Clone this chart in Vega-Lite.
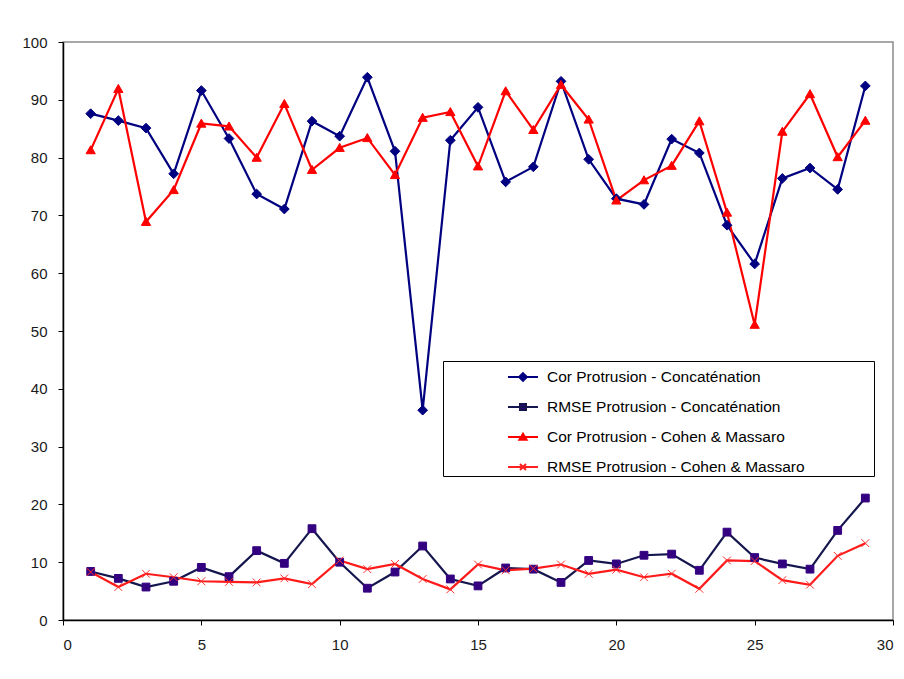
{
  "$schema": "https://vega.github.io/schema/vega-lite/v6.json",
  "width": 830,
  "height": 578,
  "autosize": "none",
  "padding": {"left": 63, "top": 42, "right": 11, "bottom": 59},
  "background": "white",
  "config": {
    "view": {"stroke": "#8c8c8c", "strokeWidth": 1.5},
    "font": "Liberation Sans",
    "legend": {
      "orient": "none",
      "legendX": 380,
      "legendY": 319,
      "padding": 0,
      "rowPadding": 5,
      "strokeColor": "#000",
      "fillColor": "#fff",
      "symbolSize": 900,
      "symbolStrokeWidth": 2,
      "symbolOpacity": 1,
      "symbolOffset": 64,
      "labelOffset": 8,
      "labelFont": "Liberation Sans",
      "labelFontSize": 15.5,
      "labelColor": "#000",
      "labelLimit": 0
    }
  },
  "resolve": {"scale": {"shape": "independent", "fill": "independent", "stroke": "independent"}},
  "data": {
    "values": [
      {"x": 1, "s": "Cor Protrusion - Concaténation", "v": 87.6},
      {"x": 2, "s": "Cor Protrusion - Concaténation", "v": 86.4},
      {"x": 3, "s": "Cor Protrusion - Concaténation", "v": 85.1},
      {"x": 4, "s": "Cor Protrusion - Concaténation", "v": 77.2},
      {"x": 5, "s": "Cor Protrusion - Concaténation", "v": 91.6},
      {"x": 6, "s": "Cor Protrusion - Concaténation", "v": 83.3},
      {"x": 7, "s": "Cor Protrusion - Concaténation", "v": 73.7},
      {"x": 8, "s": "Cor Protrusion - Concaténation", "v": 71.1},
      {"x": 9, "s": "Cor Protrusion - Concaténation", "v": 86.3},
      {"x": 10, "s": "Cor Protrusion - Concaténation", "v": 83.7},
      {"x": 11, "s": "Cor Protrusion - Concaténation", "v": 93.9},
      {"x": 12, "s": "Cor Protrusion - Concaténation", "v": 81.1},
      {"x": 13, "s": "Cor Protrusion - Concaténation", "v": 36.3},
      {"x": 14, "s": "Cor Protrusion - Concaténation", "v": 83.0},
      {"x": 15, "s": "Cor Protrusion - Concaténation", "v": 88.7},
      {"x": 16, "s": "Cor Protrusion - Concaténation", "v": 75.8},
      {"x": 17, "s": "Cor Protrusion - Concaténation", "v": 78.4},
      {"x": 18, "s": "Cor Protrusion - Concaténation", "v": 93.2},
      {"x": 19, "s": "Cor Protrusion - Concaténation", "v": 79.7},
      {"x": 20, "s": "Cor Protrusion - Concaténation", "v": 72.9},
      {"x": 21, "s": "Cor Protrusion - Concaténation", "v": 71.9},
      {"x": 22, "s": "Cor Protrusion - Concaténation", "v": 83.2},
      {"x": 23, "s": "Cor Protrusion - Concaténation", "v": 80.8},
      {"x": 24, "s": "Cor Protrusion - Concaténation", "v": 68.3},
      {"x": 25, "s": "Cor Protrusion - Concaténation", "v": 61.6},
      {"x": 26, "s": "Cor Protrusion - Concaténation", "v": 76.4},
      {"x": 27, "s": "Cor Protrusion - Concaténation", "v": 78.2},
      {"x": 28, "s": "Cor Protrusion - Concaténation", "v": 74.5},
      {"x": 29, "s": "Cor Protrusion - Concaténation", "v": 92.4},
      {"x": 1, "s": "RMSE Protrusion - Concaténation", "v": 8.4},
      {"x": 2, "s": "RMSE Protrusion - Concaténation", "v": 7.2},
      {"x": 3, "s": "RMSE Protrusion - Concaténation", "v": 5.7},
      {"x": 4, "s": "RMSE Protrusion - Concaténation", "v": 6.7},
      {"x": 5, "s": "RMSE Protrusion - Concaténation", "v": 9.1},
      {"x": 6, "s": "RMSE Protrusion - Concaténation", "v": 7.5},
      {"x": 7, "s": "RMSE Protrusion - Concaténation", "v": 12.0},
      {"x": 8, "s": "RMSE Protrusion - Concaténation", "v": 9.8},
      {"x": 9, "s": "RMSE Protrusion - Concaténation", "v": 15.8},
      {"x": 10, "s": "RMSE Protrusion - Concaténation", "v": 10.0},
      {"x": 11, "s": "RMSE Protrusion - Concaténation", "v": 5.5},
      {"x": 12, "s": "RMSE Protrusion - Concaténation", "v": 8.3},
      {"x": 13, "s": "RMSE Protrusion - Concaténation", "v": 12.8},
      {"x": 14, "s": "RMSE Protrusion - Concaténation", "v": 7.1},
      {"x": 15, "s": "RMSE Protrusion - Concaténation", "v": 5.9},
      {"x": 16, "s": "RMSE Protrusion - Concaténation", "v": 9.0},
      {"x": 17, "s": "RMSE Protrusion - Concaténation", "v": 8.8},
      {"x": 18, "s": "RMSE Protrusion - Concaténation", "v": 6.5},
      {"x": 19, "s": "RMSE Protrusion - Concaténation", "v": 10.3},
      {"x": 20, "s": "RMSE Protrusion - Concaténation", "v": 9.7},
      {"x": 21, "s": "RMSE Protrusion - Concaténation", "v": 11.2},
      {"x": 22, "s": "RMSE Protrusion - Concaténation", "v": 11.4},
      {"x": 23, "s": "RMSE Protrusion - Concaténation", "v": 8.6},
      {"x": 24, "s": "RMSE Protrusion - Concaténation", "v": 15.2},
      {"x": 25, "s": "RMSE Protrusion - Concaténation", "v": 10.8},
      {"x": 26, "s": "RMSE Protrusion - Concaténation", "v": 9.7},
      {"x": 27, "s": "RMSE Protrusion - Concaténation", "v": 8.8},
      {"x": 28, "s": "RMSE Protrusion - Concaténation", "v": 15.5},
      {"x": 29, "s": "RMSE Protrusion - Concaténation", "v": 21.1},
      {"x": 1, "s": "Cor Protrusion - Cohen & Massaro", "v": 81.3},
      {"x": 2, "s": "Cor Protrusion - Cohen & Massaro", "v": 91.9},
      {"x": 3, "s": "Cor Protrusion - Cohen & Massaro", "v": 68.9},
      {"x": 4, "s": "Cor Protrusion - Cohen & Massaro", "v": 74.4},
      {"x": 5, "s": "Cor Protrusion - Cohen & Massaro", "v": 85.9},
      {"x": 6, "s": "Cor Protrusion - Cohen & Massaro", "v": 85.4},
      {"x": 7, "s": "Cor Protrusion - Cohen & Massaro", "v": 80.0},
      {"x": 8, "s": "Cor Protrusion - Cohen & Massaro", "v": 89.3},
      {"x": 9, "s": "Cor Protrusion - Cohen & Massaro", "v": 77.9},
      {"x": 10, "s": "Cor Protrusion - Cohen & Massaro", "v": 81.7},
      {"x": 11, "s": "Cor Protrusion - Cohen & Massaro", "v": 83.4},
      {"x": 12, "s": "Cor Protrusion - Cohen & Massaro", "v": 77.0},
      {"x": 13, "s": "Cor Protrusion - Cohen & Massaro", "v": 86.9},
      {"x": 14, "s": "Cor Protrusion - Cohen & Massaro", "v": 87.9},
      {"x": 15, "s": "Cor Protrusion - Cohen & Massaro", "v": 78.5},
      {"x": 16, "s": "Cor Protrusion - Cohen & Massaro", "v": 91.5},
      {"x": 17, "s": "Cor Protrusion - Cohen & Massaro", "v": 84.8},
      {"x": 18, "s": "Cor Protrusion - Cohen & Massaro", "v": 92.6},
      {"x": 19, "s": "Cor Protrusion - Cohen & Massaro", "v": 86.6},
      {"x": 20, "s": "Cor Protrusion - Cohen & Massaro", "v": 72.6},
      {"x": 21, "s": "Cor Protrusion - Cohen & Massaro", "v": 76.1},
      {"x": 22, "s": "Cor Protrusion - Cohen & Massaro", "v": 78.6},
      {"x": 23, "s": "Cor Protrusion - Cohen & Massaro", "v": 86.3},
      {"x": 24, "s": "Cor Protrusion - Cohen & Massaro", "v": 70.5},
      {"x": 25, "s": "Cor Protrusion - Cohen & Massaro", "v": 51.1},
      {"x": 26, "s": "Cor Protrusion - Cohen & Massaro", "v": 84.5},
      {"x": 27, "s": "Cor Protrusion - Cohen & Massaro", "v": 91.0},
      {"x": 28, "s": "Cor Protrusion - Cohen & Massaro", "v": 80.1},
      {"x": 29, "s": "Cor Protrusion - Cohen & Massaro", "v": 86.4},
      {"x": 1, "s": "RMSE Protrusion - Cohen & Massaro", "v": 8.3},
      {"x": 2, "s": "RMSE Protrusion - Cohen & Massaro", "v": 5.7},
      {"x": 3, "s": "RMSE Protrusion - Cohen & Massaro", "v": 8.0},
      {"x": 4, "s": "RMSE Protrusion - Cohen & Massaro", "v": 7.4},
      {"x": 5, "s": "RMSE Protrusion - Cohen & Massaro", "v": 6.7},
      {"x": 6, "s": "RMSE Protrusion - Cohen & Massaro", "v": 6.6},
      {"x": 7, "s": "RMSE Protrusion - Cohen & Massaro", "v": 6.5},
      {"x": 8, "s": "RMSE Protrusion - Cohen & Massaro", "v": 7.2},
      {"x": 9, "s": "RMSE Protrusion - Cohen & Massaro", "v": 6.2},
      {"x": 10, "s": "RMSE Protrusion - Cohen & Massaro", "v": 10.3},
      {"x": 11, "s": "RMSE Protrusion - Cohen & Massaro", "v": 8.8},
      {"x": 12, "s": "RMSE Protrusion - Cohen & Massaro", "v": 9.7},
      {"x": 13, "s": "RMSE Protrusion - Cohen & Massaro", "v": 7.1},
      {"x": 14, "s": "RMSE Protrusion - Cohen & Massaro", "v": 5.3},
      {"x": 15, "s": "RMSE Protrusion - Cohen & Massaro", "v": 9.6},
      {"x": 16, "s": "RMSE Protrusion - Cohen & Massaro", "v": 8.6},
      {"x": 17, "s": "RMSE Protrusion - Cohen & Massaro", "v": 8.9},
      {"x": 18, "s": "RMSE Protrusion - Cohen & Massaro", "v": 9.6},
      {"x": 19, "s": "RMSE Protrusion - Cohen & Massaro", "v": 8.0},
      {"x": 20, "s": "RMSE Protrusion - Cohen & Massaro", "v": 8.7},
      {"x": 21, "s": "RMSE Protrusion - Cohen & Massaro", "v": 7.4},
      {"x": 22, "s": "RMSE Protrusion - Cohen & Massaro", "v": 8.0},
      {"x": 23, "s": "RMSE Protrusion - Cohen & Massaro", "v": 5.4},
      {"x": 24, "s": "RMSE Protrusion - Cohen & Massaro", "v": 10.3},
      {"x": 25, "s": "RMSE Protrusion - Cohen & Massaro", "v": 10.2},
      {"x": 26, "s": "RMSE Protrusion - Cohen & Massaro", "v": 6.9},
      {"x": 27, "s": "RMSE Protrusion - Cohen & Massaro", "v": 6.1},
      {"x": 28, "s": "RMSE Protrusion - Cohen & Massaro", "v": 11.1},
      {"x": 29, "s": "RMSE Protrusion - Cohen & Massaro", "v": 13.3}
    ]
  },
  "encoding": {
    "x": {
      "field": "x", "type": "quantitative",
      "scale": {"domain": [0, 30], "nice": false, "zero": false},
      "axis": {
        "title": null, "grid": false, "values": [0, 5, 10, 15, 20, 25, 30],
        "domainColor": "#000", "domainWidth": 1.5, "tickColor": "#000", "tickSize": 5,
        "labelFontSize": 15, "labelColor": "#1a1a1a", "labelPadding": 12, "labelFont": "Liberation Sans"
      }
    },
    "y": {
      "field": "v", "type": "quantitative",
      "scale": {"domain": [0, 100], "nice": false},
      "axis": {
        "title": null, "grid": false, "values": [0, 10, 20, 30, 40, 50, 60, 70, 80, 90, 100],
        "domainColor": "#000", "domainWidth": 1.5, "tickColor": "#000", "tickSize": 5,
        "labelFontSize": 15, "labelColor": "#1a1a1a", "labelPadding": 11, "labelFont": "Liberation Sans"
      }
    }
  },
  "layer": [
    {
      "mark": {"type": "line", "strokeWidth": 2.2},
      "encoding": {
        "color": {
          "field": "s", "type": "nominal",
          "scale": {
            "domain": ["Cor Protrusion - Concaténation", "RMSE Protrusion - Concaténation", "Cor Protrusion - Cohen & Massaro", "RMSE Protrusion - Cohen & Massaro"],
            "range": ["#000080", "#16164f", "#ff0000", "#ff1a1a"]
          },
          "legend": null
        }
      }
    },
    {
      "mark": {"type": "point", "opacity": 1, "strokeWidth": 1, "size": 95},
      "encoding": {
        "shape": {
          "field": "s", "type": "nominal",
          "scale": {
            "domain": ["Cor Protrusion - Concaténation", "RMSE Protrusion - Concaténation", "Cor Protrusion - Cohen & Massaro", "RMSE Protrusion - Cohen & Massaro"],
            "range": ["M0,-1L1,0L0,1L-1,0Z", "M-0.8,-0.8H0.8V0.8H-0.8Z", "M0,-0.9L0.95,0.75H-0.95Z", "M-0.8,-0.8L0.8,0.8M-0.8,0.8L0.8,-0.8"]
          },
          "legend": null
        },
        "fill": {
          "field": "s", "type": "nominal",
          "scale": {
            "domain": ["Cor Protrusion - Concaténation", "RMSE Protrusion - Concaténation", "Cor Protrusion - Cohen & Massaro", "RMSE Protrusion - Cohen & Massaro"],
            "range": ["#000080", "#330080", "#ff0000", "transparent"]
          },
          "legend": null
        },
        "stroke": {
          "field": "s", "type": "nominal",
          "scale": {
            "domain": ["Cor Protrusion - Concaténation", "RMSE Protrusion - Concaténation", "Cor Protrusion - Cohen & Massaro", "RMSE Protrusion - Cohen & Massaro"],
            "range": ["#000080", "#330080", "#ff0000", "#ff3030"]
          },
          "legend": null
        }
      }
    },
    {
      "transform": [{"filter": {"field": "x", "lt": 0}}],
      "mark": {"type": "point", "strokeWidth": 2, "filled": true},
      "encoding": {
        "shape": {
          "field": "s", "type": "nominal",
          "scale": {
            "domain": ["Cor Protrusion - Concaténation", "RMSE Protrusion - Concaténation", "Cor Protrusion - Cohen & Massaro", "RMSE Protrusion - Cohen & Massaro"],
            "range": ["M-1,0H1M0,-0.26L0.26,0L0,0.26L-0.26,0Z", "M-1,0H1M-0.2,-0.2H0.2V0.2H-0.2Z", "M-1,0H1M0,-0.22L0.24,0.18H-0.24Z", "M-1,0H1M-0.2,-0.2L0.2,0.2M-0.2,0.2L0.2,-0.2"]
          },
          "legend": {
            "title": null,
            "orient": "none",
            "legendX": 380,
            "legendY": 319,
            "labelExpr": "datum.label + '\u00a0\u00a0\u00a0\u00a0\u00a0\u00a0\u00a0\u00a0\u00a0\u00a0\u00a0\u00a0\u00a0\u00a0\u00a0\u00a0\u200b'"
          }
        },
        "fill": {
          "field": "s", "type": "nominal",
          "scale": {
            "domain": ["Cor Protrusion - Concaténation", "RMSE Protrusion - Concaténation", "Cor Protrusion - Cohen & Massaro", "RMSE Protrusion - Cohen & Massaro"],
            "range": ["#000080", "#330080", "#ff0000", "transparent"]
          },
          "legend": {
            "title": null,
            "orient": "none",
            "legendX": 380,
            "legendY": 319,
            "labelExpr": "datum.label + '\u00a0\u00a0\u00a0\u00a0\u00a0\u00a0\u00a0\u00a0\u00a0\u00a0\u00a0\u00a0\u00a0\u00a0\u00a0\u00a0\u200b'"
          }
        },
        "stroke": {
          "field": "s", "type": "nominal",
          "scale": {
            "domain": ["Cor Protrusion - Concaténation", "RMSE Protrusion - Concaténation", "Cor Protrusion - Cohen & Massaro", "RMSE Protrusion - Cohen & Massaro"],
            "range": ["#000080", "#16164f", "#ff0000", "#ff2020"]
          },
          "legend": {
            "title": null,
            "orient": "none",
            "legendX": 380,
            "legendY": 319,
            "labelExpr": "datum.label + '\u00a0\u00a0\u00a0\u00a0\u00a0\u00a0\u00a0\u00a0\u00a0\u00a0\u00a0\u00a0\u00a0\u00a0\u00a0\u00a0\u200b'"
          }
        }
      }
    }
  ]
}
